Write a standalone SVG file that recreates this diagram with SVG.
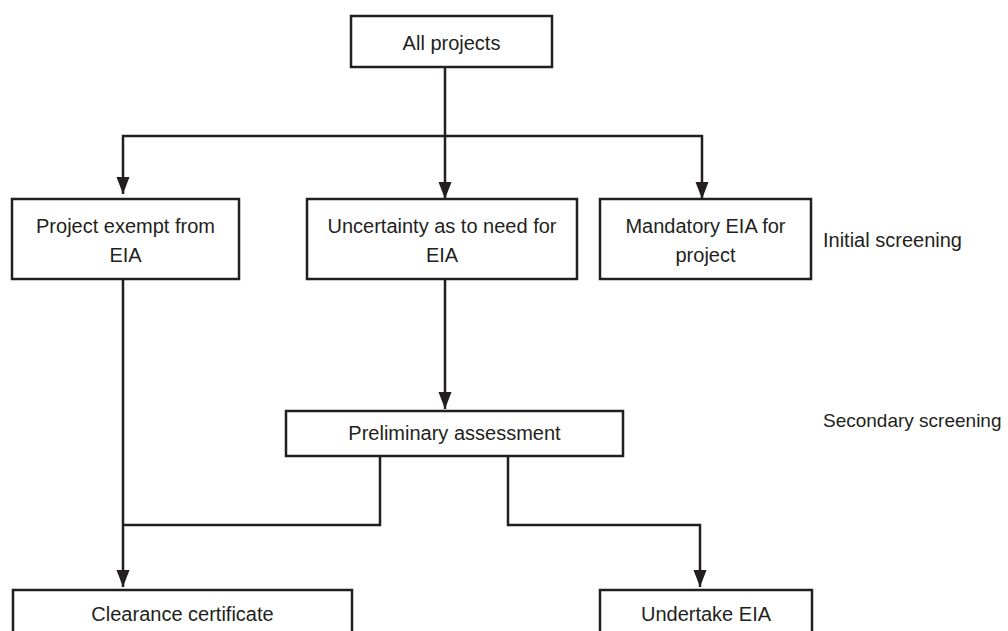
<svg xmlns="http://www.w3.org/2000/svg" width="1008" height="631" viewBox="0 0 1008 631">
<style>
.box{fill:#fff;stroke:#231f20;stroke-width:2.5}
.ln{fill:none;stroke:#231f20;stroke-width:2.5}
text{font-family:"Liberation Sans",Arial,sans-serif;font-size:20px;fill:#231f20}
.c{text-anchor:middle}
</style>
<defs>
<marker id="ah" markerUnits="userSpaceOnUse" markerWidth="18" markerHeight="14" refX="17" refY="6.5" orient="auto">
<path d="M0,0 L17,6.5 L0,13 z" fill="#231f20"/>
</marker>
</defs>
<g id="connectors">
<path class="ln" d="M445,67 V199" marker-end="url(#ah)"/>
<path class="ln" d="M445,136 H123 V194" marker-end="url(#ah)"/>
<path class="ln" d="M445,136 H702 V199" marker-end="url(#ah)"/>
<path class="ln" d="M123,279 V587" marker-end="url(#ah)"/>
<path class="ln" d="M445,279 V409" marker-end="url(#ah)"/>
<path class="ln" d="M380,456 V525 H123"/>
<path class="ln" d="M508,456 V525 H700 V587" marker-end="url(#ah)"/>
</g>
<g id="all-projects">
<rect class="box" x="351" y="16" width="201" height="51"/>
<text class="c" x="451.5" y="50">All projects</text>
</g>
<g id="exempt">
<rect class="box" x="12" y="199" width="227" height="80"/>
<text class="c" x="125.5" y="233">Project exempt from</text>
<text class="c" x="125.5" y="262">EIA</text>
</g>
<g id="uncertainty">
<rect class="box" x="307" y="199" width="270" height="80"/>
<text class="c" x="442" y="233">Uncertainty as to need for</text>
<text class="c" x="442" y="262">EIA</text>
</g>
<g id="mandatory">
<rect class="box" x="600" y="199" width="211" height="80"/>
<text class="c" x="705.5" y="233">Mandatory EIA for</text>
<text class="c" x="705.5" y="262">project</text>
</g>
<g id="initial-screening">
<text x="823" y="247">Initial screening</text>
</g>
<g id="preliminary">
<rect class="box" x="286" y="411" width="337" height="45"/>
<text class="c" x="454.5" y="440">Preliminary assessment</text>
</g>
<g id="secondary-screening">
<text x="823" y="427" style="font-size:19px">Secondary screening</text>
</g>
<g id="clearance">
<rect class="box" x="13" y="590" width="339" height="60"/>
<text class="c" x="182.5" y="621">Clearance certificate</text>
</g>
<g id="undertake">
<rect class="box" x="600" y="590" width="212" height="60"/>
<text class="c" x="706" y="621">Undertake EIA</text>
</g>
</svg>
